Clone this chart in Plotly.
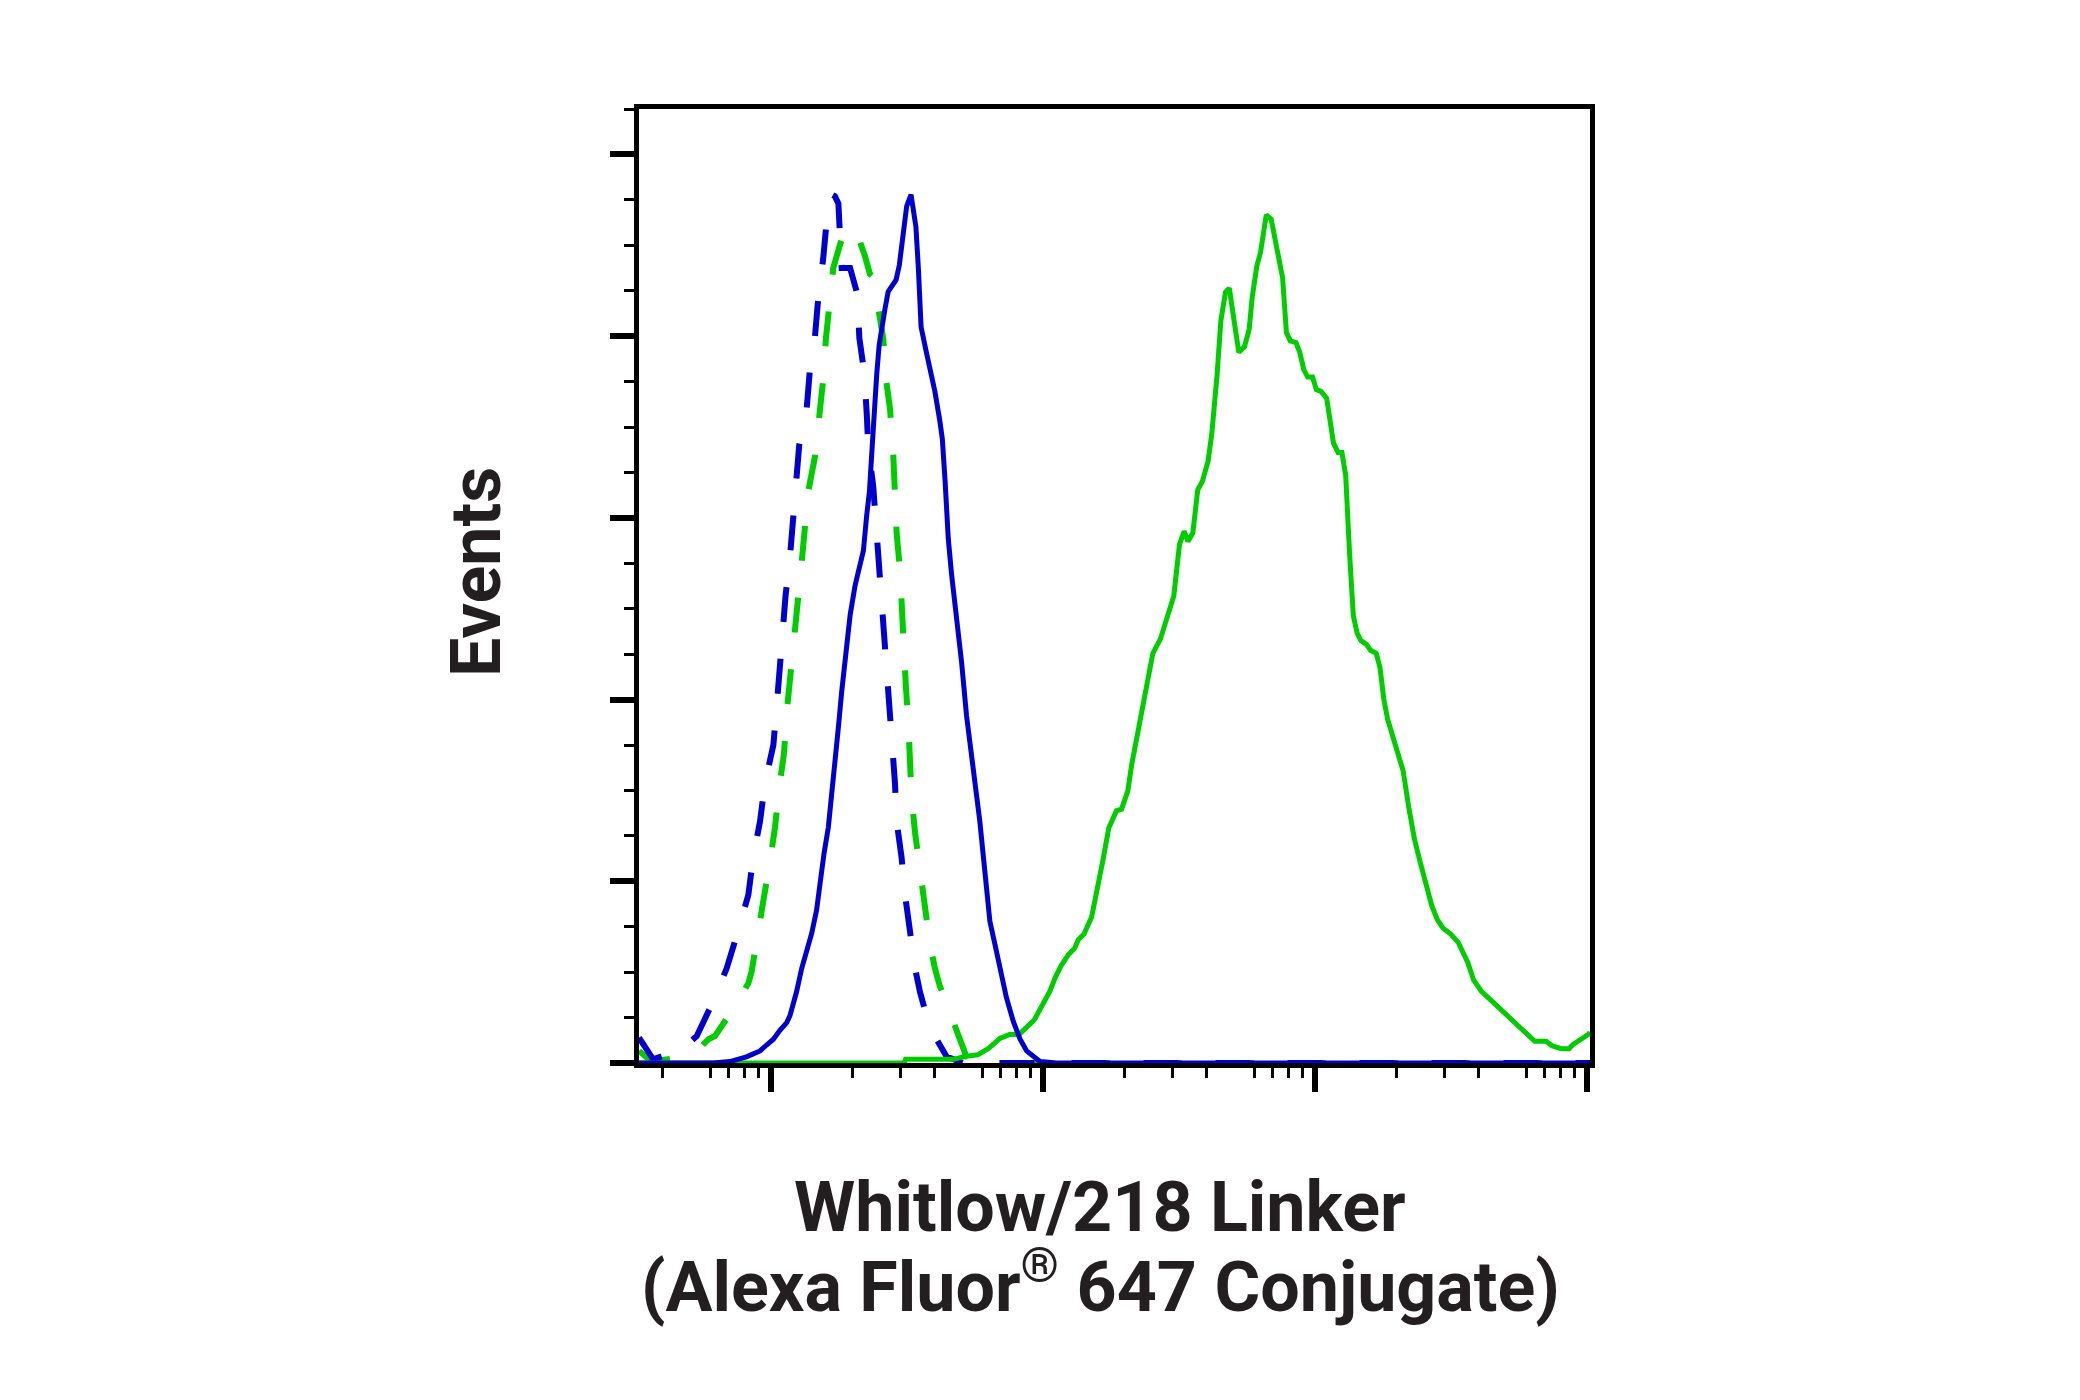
import plotly.graph_objects as go

# ---- data (x as log10 intensity, y as events) ----
green_solid_log = [1.515, 2.49, 2.495, 2.67, 2.71, 2.76, 2.80, 2.842, 2.877, 2.912, 2.968, 3.025, 3.046, 3.067, 3.095, 3.116, 3.130, 3.151, 3.179, 3.207, 3.221, 3.242, 3.270, 3.289, 3.312, 3.326, 3.348, 3.369, 3.383, 3.404, 3.432, 3.453, 3.481, 3.502, 3.519, 3.533, 3.551, 3.569, 3.586, 3.607, 3.621, 3.640, 3.654, 3.671, 3.685, 3.701, 3.720, 3.741, 3.758, 3.769, 3.786, 3.800, 3.821, 3.839, 3.860, 3.881, 3.895, 3.909, 3.930, 3.944, 3.959, 3.973, 3.991, 4.005, 4.022, 4.043, 4.068, 4.085, 4.099, 4.113, 4.127, 4.141, 4.155, 4.169, 4.190, 4.204, 4.225, 4.239, 4.253, 4.267, 4.289, 4.310, 4.324, 4.345, 4.366, 4.387, 4.408, 4.429, 4.450, 4.471, 4.499, 4.527, 4.562, 4.583, 4.612, 4.668, 4.724, 4.780, 4.808, 4.850, 4.871, 4.906, 4.934, 4.948, 4.976, 5.005, 5.011]
green_solid_events = [0, 0, 0.4, 0.4, 0.7, 0.9, 1.6, 2.7, 3.15, 3.15, 4.73, 7.88, 9.46, 10.72, 11.98, 12.61, 13.56, 14.19, 16.08, 19.87, 22.39, 25.86, 27.75, 27.94, 29.96, 32.80, 36.27, 39.42, 42.26, 45.10, 46.68, 48.88, 51.41, 57.08, 58.53, 57.40, 58.35, 63.08, 64.02, 66.23, 69.38, 75.69, 81.69, 84.84, 85.28, 82.00, 78.22, 78.85, 80.74, 84.21, 87.68, 89.25, 93.36, 92.85, 89.57, 86.42, 80.42, 79.48, 79.29, 78.22, 76.32, 75.50, 75.50, 74.12, 73.93, 73.17, 68.25, 67.18, 67.18, 64.65, 56.14, 49.20, 47.31, 46.49, 46.05, 45.42, 45.10, 43.52, 40.05, 37.85, 35.64, 33.75, 32.17, 28.07, 24.60, 22.08, 19.55, 17.35, 15.77, 14.82, 14.19, 13.24, 11.04, 9.14, 7.88, 6.30, 4.73, 3.02, 2.39, 2.39, 1.89, 1.57, 1.57, 2.02, 2.52, 3.15, 3.4]

blue_solid_log = [1.515, 1.788, 1.849, 1.874, 1.910, 1.935, 1.960, 1.984, 2.009, 2.033, 2.058, 2.070, 2.094, 2.113, 2.131, 2.150, 2.168, 2.180, 2.195, 2.211, 2.223, 2.235, 2.248, 2.260, 2.272, 2.278, 2.291, 2.309, 2.327, 2.340, 2.352, 2.362, 2.370, 2.379, 2.389, 2.398, 2.407, 2.419, 2.431, 2.444, 2.460, 2.472, 2.484, 2.499, 2.515, 2.523, 2.533, 2.542, 2.552, 2.570, 2.587, 2.603, 2.621, 2.630, 2.640, 2.652, 2.664, 2.683, 2.701, 2.719, 2.738, 2.756, 2.768, 2.781, 2.793, 2.805, 2.824, 2.842, 2.866, 2.891, 2.916, 2.940, 2.977, 2.989, 3.05, 5.011]
blue_solid_events = [0, 0, 0.16, 0.36, 0.68, 1.0, 1.33, 1.98, 2.62, 3.59, 4.44, 5.21, 7.81, 10.4, 12.34, 14.28, 16.87, 20.11, 23.03, 25.94, 29.18, 33.07, 36.96, 40.84, 44.08, 46.67, 49.26, 52.5, 55.09, 56.39, 60.28, 62.87, 66.76, 71.94, 75.83, 79.06, 81.0, 82.95, 84.89, 85.54, 86.19, 87.81, 90.72, 94.29, 95.58, 93.96, 92.02, 87.48, 81.0, 78.41, 76.15, 73.88, 70.64, 68.70, 64.17, 57.69, 53.80, 49.26, 44.08, 38.25, 33.72, 29.83, 26.59, 22.71, 18.82, 15.58, 12.99, 10.40, 7.16, 4.57, 2.62, 1.33, 0.36, 0.16, 0, 0]

blue_dashed_log = [1.515, 1.567, 1.623, 1.659, 1.690, 1.727, 1.788, 1.837, 1.880, 1.917, 1.935, 1.960, 1.978, 2.009, 2.021, 2.031, 2.045, 2.054, 2.070, 2.082, 2.094, 2.104, 2.131, 2.143, 2.162, 2.174, 2.192, 2.205, 2.223, 2.235, 2.248, 2.254, 2.260, 2.291, 2.303, 2.318, 2.325, 2.342, 2.352, 2.358, 2.376, 2.386, 2.395, 2.403, 2.413, 2.425, 2.438, 2.447, 2.456, 2.462, 2.480, 2.493, 2.511, 2.530, 2.548, 2.572, 2.609, 2.646, 2.707, 5.011]
blue_dashed_events = [2.8, 0.4, 1.0, 1.0, 2.0, 2.95, 6.8, 10.4, 14.6, 18.5, 22.7, 26.6, 30.8, 35.0, 39.2, 43.4, 47.3, 51.5, 55.7, 59.6, 63.7, 68.0, 71.9, 76.2, 80.0, 84.2, 88.5, 92.7, 95.6, 95.4, 94.6, 91.7, 87.5, 87.5, 86.2, 84.6, 79.8, 76.2, 71.6, 67.7, 63.5, 59.6, 55.7, 51.2, 47.3, 43.1, 39.2, 35.0, 30.8, 26.6, 22.7, 18.5, 14.3, 10.4, 7.8, 5.2, 2.6, 0.7, 0, 0]

green_dashed_log = [1.515, 1.561, 1.690, 1.739, 1.770, 1.794, 1.874, 1.917, 1.929, 1.953, 1.972, 1.996, 2.015, 2.031, 2.048, 2.058, 2.072, 2.082, 2.101, 2.113, 2.125, 2.137, 2.162, 2.180, 2.193, 2.202, 2.217, 2.229, 2.254, 2.266, 2.278, 2.297, 2.309, 2.327, 2.346, 2.364, 2.376, 2.395, 2.413, 2.425, 2.438, 2.450, 2.456, 2.462, 2.474, 2.480, 2.487, 2.496, 2.505, 2.511, 2.517, 2.530, 2.548, 2.566, 2.585, 2.603, 2.621, 2.640, 2.658, 2.670, 2.719, 2.768, 5.011]
green_dashed_events = [1.33, 0.16, 0.68, 1.65, 2.62, 2.95, 6.51, 8.78, 10.07, 13.96, 17.85, 22.06, 25.94, 30.48, 34.04, 38.58, 42.46, 46.67, 50.56, 55.09, 58.98, 62.87, 66.76, 71.29, 75.50, 79.71, 83.60, 87.48, 90.08, 91.05, 91.37, 91.05, 89.75, 90.40, 88.78, 86.84, 86.51, 82.95, 79.71, 74.85, 71.94, 66.76, 62.22, 58.33, 54.45, 49.91, 46.03, 41.49, 37.60, 33.72, 29.18, 25.30, 21.41, 16.87, 12.99, 10.40, 8.45, 7.16, 5.21, 4.57, 0.68, 0, 0]

x_major_ticks = [1e2, 1e3, 1e4, 1e5]
x_mid_ticks = [50, 500, 5000, 50000]
x_minor_ticks = [40, 60, 70, 80, 90,
                 200, 300, 400, 600, 700, 800, 900,
                 2000, 3000, 4000, 6000, 7000, 8000, 9000,
                 20000, 30000, 40000, 60000, 70000, 80000, 90000]
y_major_ticks = [0, 20, 40, 60, 80, 100]

x_title_line1 = "Whitlow/218 Linker"
x_title_line2 = "(Alexa Fluor<sup>®</sup> 647 Conjugate)"
y_title = "Events"

BLUE = "#0000CC"
GREEN = "#00CC00"
TEXT = "#231F20"
FONT = "Roboto, 'Liberation Sans', sans-serif"
TITLE_SIZE = 70

series = [
    (green_dashed_log, green_dashed_events, GREEN, "35px,37px", 6),
    (blue_dashed_log, blue_dashed_events, BLUE, "35px,37px", 6),
    (green_solid_log, green_solid_events, GREEN, "solid", 5),
    (blue_solid_log, blue_solid_events, BLUE, "solid", 5),
]

fig = go.Figure()
for lx, ly, col, dash, w in series:
    assert len(lx) == len(ly)
    fig.add_trace(go.Scatter(
        x=[10 ** v for v in lx], y=ly, mode="lines",
        line=dict(color=col, width=w, dash=dash),
        hoverinfo="skip", showlegend=False,
    ))

x_range = [1.515, 5.011]

fig.update_layout(
    width=2064, height=1384,
    margin=dict(l=631, r=482, t=101, b=329),
    paper_bgcolor="white", plot_bgcolor="white",
    showlegend=False,
    xaxis=dict(
        type="log", range=x_range, showgrid=False, zeroline=False,
        showline=True, linecolor="black", linewidth=5, mirror=True,
        ticks="outside", tickmode="array", tickvals=x_major_ticks,
        ticklen=24, tickwidth=6, tickcolor="black", showticklabels=False,
        minor=dict(ticks="outside", tickvals=x_minor_ticks, ticklen=10,
                   tickwidth=3, tickcolor="black", showgrid=False),
    ),
    xaxis2=dict(
        type="log", range=x_range, overlaying="x", anchor="y", side="bottom",
        showgrid=False, zeroline=False, showline=True, linecolor="black",
        linewidth=5, ticks="outside", tickmode="array", tickvals=x_mid_ticks,
        ticklen=17, tickwidth=4, tickcolor="black", showticklabels=False,
    ),
    yaxis=dict(
        range=[0, 105], showgrid=False, zeroline=False,
        showline=True, linecolor="black", linewidth=5, mirror=True,
        ticks="outside", tickmode="array", tickvals=y_major_ticks,
        ticklen=24, tickwidth=6, tickcolor="black", showticklabels=False,
        minor=dict(ticks="outside", dtick=5, ticklen=10, tickwidth=3,
                   tickcolor="black", showgrid=False),
    ),
    annotations=[
        dict(text=y_title, xref="paper", yref="paper", x=-0.1714, y=0.5147,
             xanchor="center", yanchor="middle", textangle=-90, showarrow=False,
             font=dict(family=FONT, size=TITLE_SIZE, color=TEXT, weight="bold")),
        dict(text=x_title_line1, xref="paper", yref="paper", x=0.4848, y=-0.151,
             xanchor="center", yanchor="middle", showarrow=False,
             font=dict(family=FONT, size=TITLE_SIZE, color=TEXT, weight="bold")),
        dict(text=x_title_line2, xref="paper", yref="paper", x=0.4848, y=-0.230,
             xanchor="center", yanchor="middle", showarrow=False,
             font=dict(family=FONT, size=TITLE_SIZE, color=TEXT, weight="bold")),
    ],
)

fig.write_html("out.html")
